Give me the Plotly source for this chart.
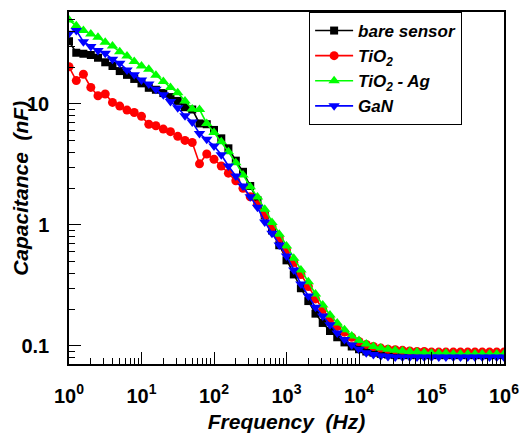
import plotly.graph_objects as go

# measurement frequencies (Hz), 10 points per decade
freq = [1, 1.26, 1.58, 2.0, 2.51, 3.16, 3.98, 5.01, 6.31, 7.94,
        10, 12.6, 15.8, 20.0, 25.1, 31.6, 39.8, 50.1, 63.1, 79.4,
        100, 126, 158, 200, 251, 316, 398, 501, 631, 794,
        1e3, 1.26e3, 1.58e3, 2e3, 2.51e3, 3.16e3, 3.98e3, 5.01e3, 6.31e3, 7.94e3,
        1e4, 1.26e4, 1.58e4, 2e4, 2.51e4, 3.16e4, 3.98e4, 5.01e4, 6.31e4, 7.94e4,
        1e5, 1.26e5, 1.58e5, 2e5, 2.51e5, 3.16e5, 3.98e5, 5.01e5, 6.31e5, 7.94e5,
        1e6]

# capacitance (nF)
bare_sensor = [33, 26.5, 26, 25.4, 24.1, 22.1, 20.6, 18.7, 17.4, 16.1,
               14.8, 13.6, 13.1, 12.3, 11.4, 10.6, 9.4, 9.0, 6.9, 6.8,
               6.1, 5.2, 4.3, 3.4, 2.75, 2.1, 1.6, 1.2, 0.9, 0.68,
               0.51, 0.39, 0.3, 0.235, 0.185, 0.155, 0.133, 0.118, 0.107, 0.099,
               0.094, 0.090, 0.088, 0.086, 0.085, 0.084, 0.084, 0.084, 0.084, 0.084,
               0.084, 0.084, 0.084, 0.084, 0.084, 0.084, 0.084, 0.084, 0.084, 0.084,
               0.084]
tio2 = [20.3, 15.6, 17.6, 13.7, 11.7, 12.1, 10.3, 9.6, 8.9, 8.5,
        7.9, 6.8, 6.6, 6.2, 5.9, 5.4, 5.0, 4.8, 3.2, 3.86,
        3.49, 3.07, 2.68, 2.32, 2.01, 1.71, 1.47, 1.21, 0.97, 0.78,
        0.62, 0.49, 0.39, 0.31, 0.245, 0.2, 0.168, 0.145, 0.13, 0.118,
        0.109, 0.103, 0.099, 0.096, 0.094, 0.093, 0.092, 0.091, 0.090, 0.090,
        0.089, 0.089, 0.089, 0.089, 0.089, 0.089, 0.089, 0.089, 0.089, 0.089,
        0.089]
tio2_ag = [49.4, 44.2, 40.4, 37.9, 35.6, 32.4, 30.1, 27.0, 24.9, 22.4,
           20.6, 19.4, 17.3, 15.3, 13.7, 12.4, 10.6, 9.1, 9.0, 6.9,
           5.8, 4.87, 4.03, 3.27, 2.59, 2.07, 1.70, 1.35, 1.05, 0.837,
           0.67, 0.53, 0.425, 0.34, 0.269, 0.218, 0.18, 0.155, 0.136, 0.121,
           0.111, 0.104, 0.099, 0.096, 0.094, 0.092, 0.091, 0.090, 0.089, 0.088,
           0.087, 0.087, 0.087, 0.086, 0.086, 0.086, 0.086, 0.086, 0.086, 0.086,
           0.086]
gan = [38.4, 40.4, 32.7, 29.8, 27.6, 26.2, 23.4, 21.7, 19.1, 17.4,
       15.8, 14.6, 13.2, 11.9, 10.5, 9.3, 8.0, 7.1, 5.7, 5.1,
       4.5, 3.8, 3.07, 2.54, 2.1, 1.71, 1.40, 1.06, 0.853, 0.684,
       0.555, 0.425, 0.325, 0.259, 0.209, 0.177, 0.15, 0.128, 0.113, 0.102,
       0.094, 0.088, 0.085, 0.083, 0.082, 0.081, 0.081, 0.081, 0.081, 0.081,
       0.081, 0.081, 0.081, 0.081, 0.081, 0.081, 0.081, 0.081, 0.081, 0.081,
       0.081]

x_tickvals = [1, 10, 100, 1e3, 1e4, 1e5, 1e6]
x_ticktext = ["10<sup>0</sup>", "10<sup>1</sup>", "10<sup>2</sup>", "10<sup>3</sup>",
              "10<sup>4</sup>", "10<sup>5</sup>", "10<sup>6</sup>"]
y_tickvals = [0.1, 1, 10]
y_ticktext = ["0.1", "1", "10"]

FONT = "Liberation Sans, Arial, sans-serif"
TITLE_FONT = dict(family=FONT, size=21, color="black", weight="bold", style="italic")

series = [
    ("bare sensor", bare_sensor, "#000000", "square", 8),
    ("TiO<sub>2</sub>", tio2, "#ff0000", "circle", 9),
    ("TiO<sub>2</sub> - Ag", tio2_ag, "#00ff00", "triangle-up", 10),
    ("GaN", gan, "#0000ff", "triangle-down", 10),
]

fig = go.Figure()
for name, vals, color, symbol, size in series:
    fig.add_trace(go.Scatter(
        x=freq, y=vals, name=name, mode="lines+markers",
        line=dict(color=color, width=1.6),
        marker=dict(color=color, symbol=symbol, size=size, line=dict(width=0)),
    ))

axis_common = dict(
    type="log", showgrid=False, zeroline=False, automargin=False,
    showline=True, linecolor="black", linewidth=1.5, mirror=True,
    ticks="inside", ticklen=12, tickwidth=1.2, tickcolor="black",
    tickfont=dict(family=FONT, size=20, color="black", weight="bold"),
)

fig.update_xaxes(
    **axis_common,
    range=[0, 6],
    tickvals=x_tickvals, ticktext=x_ticktext,
    ticklabelstandoff=13,
    minor=dict(ticks="inside", ticklen=6, tickwidth=1, tickcolor="black", dtick="D1"),
    title=dict(text="Frequency \u00a0(Hz)", standoff=10, font=TITLE_FONT),
)
fig.update_yaxes(
    **axis_common,
    range=[-1.149, 1.760],
    tickvals=y_tickvals, ticktext=y_ticktext,
    ticklabelstandoff=14,
    minor=dict(ticks="inside", ticklen=6, tickwidth=1, tickcolor="black", dtick="D1"),
)

# y title as an annotation so it can sit where the reference has it
fig.add_annotation(
    text="Capacitance \u00a0(nF)", textangle=-90,
    xref="paper", yref="paper", x=-0.113, y=0.5,
    xanchor="center", yanchor="middle", showarrow=False,
    font=TITLE_FONT,
)

fig.update_layout(
    width=521, height=433,
    margin=dict(l=69, r=17, t=12, b=69),
    paper_bgcolor="white", plot_bgcolor="white",
    showlegend=True,
    legend=dict(
        x=0.552, y=1, xanchor="left", yanchor="top",
        bgcolor="white", bordercolor="black", borderwidth=1,
        itemwidth=38,
        font=dict(family=FONT, size=17, color="black", weight="bold", style="italic"),
    ),
)

# page body margin would shift the figure by 8px
fig.write_html("out.html", config={"displayModeBar": False},
               post_script="document.body.style.margin='0';")
